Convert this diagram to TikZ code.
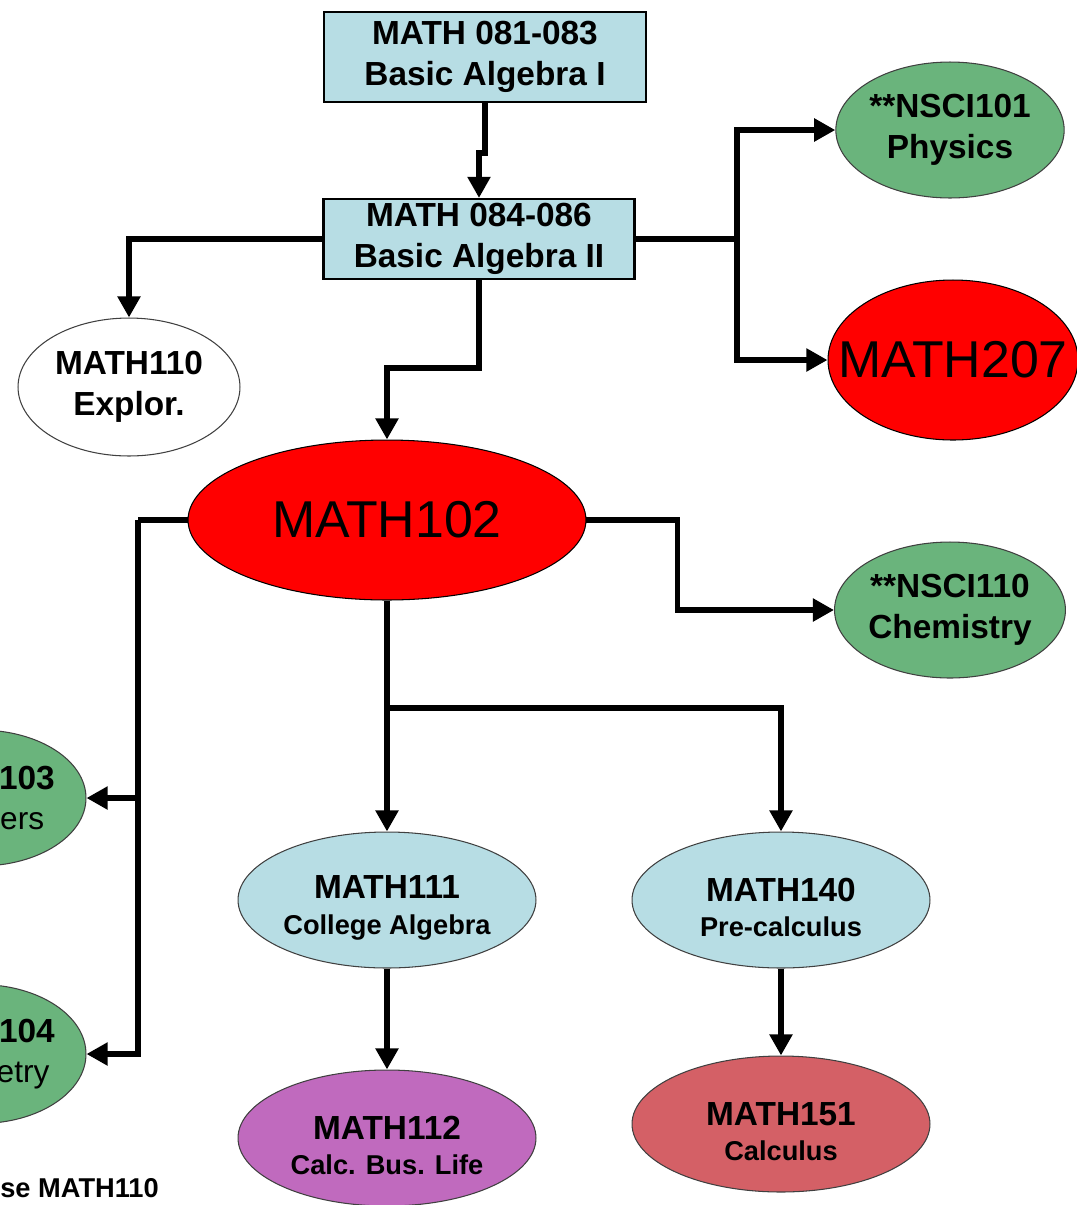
\documentclass[tikz,border=0pt]{standalone}
\usepackage{fontspec}
\setmainfont{Liberation Sans}
\usepackage{tikz}
\usetikzlibrary{arrows.meta,shapes.geometric}

\definecolor{boxblue}{RGB}{183,221,228}
\definecolor{sciGreen}{RGB}{106,180,124}
\definecolor{calcPurple}{RGB}{192,106,190}
\definecolor{calcRed}{RGB}{212,96,102}

\begin{document}
\begin{tikzpicture}[x=0.02cm, y=-0.02cm]
			\tikzstyle{box} = [draw, line width=1.2pt, fill=boxblue, rectangle, inner sep=0pt, align=center, font=\fontsize{19}{23.5}\selectfont\bfseries]
			\tikzstyle{oval} = [draw=black!75, line width=0.6pt, ellipse, inner sep=0pt, align=center, minimum width=5.96cm, minimum height=2.72cm]
			\tikzstyle{sci} = [oval, fill=sciGreen, minimum width=4.48cm, font=\fontsize{19}{23}\selectfont\bfseries]
			\tikzstyle{hot} = [draw, line width=0.6pt, ellipse, fill=red, inner sep=0pt, font=\fontsize{29.5}{31}\selectfont]
			\tikzstyle{line} = [line width=3.4pt]
			\tikzstyle{arr} = [line, -{Triangle[length=12pt, width=12.5pt]}]
			\newcommand{\codetxt}[1]{{\fontsize{19}{20}\selectfont\bfseries\rule{0pt}{22pt}#1}}
			\newcommand{\titletxt}[1]{{\fontsize{15.5}{17}\selectfont\bfseries #1}}

			\useasboundingbox (0,0) rectangle (1077,1205);
			\clip (0,0) rectangle (1077,1205);

			% courses
			\path
			(485,57) node[box, minimum width=6.44cm, minimum height=1.8cm] (math081) {MATH 081-083\\Basic Algebra I}
			(479,239) node[box, minimum width=6.22cm, minimum height=1.6cm] (math084) {MATH 084-086\\Basic Algebra II}
			(950,130) node[sci] (nsci101) {**NSCI101\\Physics}
			(953,360) node[hot, inner xsep=-16pt, minimum width=5.0cm, minimum height=3.2cm] (math207) {MATH207}
			(129,387) node[oval, fill=white, minimum width=4.44cm, minimum height=2.76cm, font=\fontsize{19}{23}\selectfont\bfseries] (math110) {MATH110\\Explor.}
			(387,520) node[hot, minimum width=7.96cm, minimum height=3.2cm] (math102) {MATH102}
			(950,610) node[sci] (nsci110) {**NSCI110\\Chemistry}
			(-20,798) node[sci, minimum width=4.24cm] (math103) {MATH103\\\fontsize{18}{22}\selectfont\mdseries Numbers}
			(-20,1054) node[sci, minimum width=4.24cm, minimum height=2.78cm] (math104) {MATH104\\\fontsize{18}{22}\selectfont\mdseries Geometry}
			(387,900) node[oval, fill=boxblue] (math111) {\codetxt{MATH111}\\[8pt]\titletxt{College Algebra}}
			(781,900) node[oval, fill=boxblue] (math140) {\codetxt{MATH140}\\[8pt]\titletxt{Pre-calculus}}
			(387,1138) node[oval, fill=calcPurple] (math112) {\codetxt{MATH112}\\[8pt]\titletxt{Calc. Bus. Life}}
			(781,1124) node[oval, fill=calcRed] (math151) {\codetxt{MATH151}\\[8pt]\titletxt{Calculus}}
			(0,1188) node[anchor=west, inner sep=0pt, font=\fontsize{15.5}{17}\selectfont\bfseries] (note) {se MATH110}
			;

			% split points
			\coordinate (rbus) at (737,239);
			\coordinate (lbus) at (138,520);
			\coordinate (bbus) at (387,708);

			% connectors
			\draw[arr] (math081.south) -- ++(0,50) -| (math084.north);
			\draw[arr] (math084.west) -| (math110.north);
			\draw[line] (math084.east) -- (rbus);
			\draw[arr] (rbus) |- (nsci101.west);
			\draw[arr] (rbus) |- (math207.west);
			\draw[arr] (math084.south) -- ++(0,88) -| (math102.north);
			\draw[arr] (math102.east) -- ++(91,0) |- (nsci110.west);
			\draw[line] (math102.west) -- (lbus);
			\draw[arr] (lbus) |- (math103.east);
			\draw[arr] (lbus) |- (math104.east);
			\draw[line] (math102.south) -- (bbus);
			\draw[arr] (bbus) -- (math111.north);
			\draw[arr] (bbus) -| (math140.north);
			\draw[arr] (math111) -- (math112);
			\draw[arr] (math140) -- (math151);
\end{tikzpicture}
\end{document}
